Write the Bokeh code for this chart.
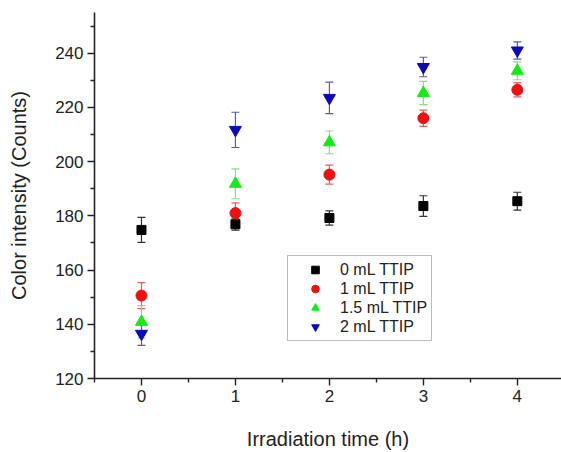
from bokeh.plotting import figure
from bokeh.models import Range1d, ColumnDataSource, Whisker, TeeHead, Legend, LegendItem, FixedTicker
from bokeh.embed import file_html
from bokeh.resources import INLINE

# Data
times = [0, 1, 2, 3, 4]
series_names = ["0 mL TTIP", "1 mL TTIP", "1.5 mL TTIP", "2 mL TTIP"]
ttip0 = [174.8, 176.9, 179.2, 183.6, 185.4]
ttip0_err = [4.6, 2.2, 2.6, 3.8, 3.3]
ttip1 = [150.6, 181.0, 195.2, 216.0, 226.5]
ttip1_err = [4.8, 3.8, 3.5, 3.0, 2.6]
ttip15 = [140.9, 191.8, 207.1, 225.3, 233.5]
ttip15_err = [6.0, 5.5, 4.2, 4.3, 3.3]
ttip2 = [136.5, 211.7, 223.5, 234.9, 241.0]
ttip2_err = [4.3, 6.5, 5.8, 3.6, 3.2]

y_ticks = [120, 140, 160, 180, 200, 220, 240]
x_ticks = [0, 1, 2, 3, 4]

FONT = "Liberation Sans"

p = figure(width=561, height=452, output_backend="svg", toolbar_location=None,
           x_range=Range1d(-0.5, 4.47), y_range=Range1d(120, 255),
           min_border_left=94, min_border_right=0, min_border_top=12, min_border_bottom=74)
p.xgrid.visible = False
p.ygrid.visible = False
p.outline_line_color = None
p.background_fill_color = "white"
p.border_fill_color = "white"

for ax in (p.xaxis[0], p.yaxis[0]):
    ax.axis_line_width = 1.6
    ax.axis_line_color = "#222222"
    ax.major_tick_line_color = "#222222"
    ax.minor_tick_line_color = "#222222"
    ax.major_tick_line_width = 1.4
    ax.minor_tick_line_width = 1.4
    ax.major_tick_out = 7
    ax.major_tick_in = 0
    ax.minor_tick_out = 4
    ax.minor_tick_in = 0
    ax.major_label_text_font = FONT
    ax.major_label_text_font_size = "17px"
    ax.major_label_text_color = "#222222"
    ax.axis_label_text_font = FONT
    ax.axis_label_text_font_size = "20px"
    ax.axis_label_text_font_style = "normal"
    ax.axis_label_text_color = "#222222"

p.xaxis.ticker = FixedTicker(ticks=x_ticks, minor_ticks=[-0.5, 0.5, 1.5, 2.5, 3.5])
p.yaxis.ticker = FixedTicker(ticks=y_ticks, minor_ticks=[130, 150, 170, 190, 210, 230, 250])
p.xaxis.axis_label = "Irradiation time (h)"
p.yaxis.axis_label = "Color intensity (Counts)"
p.xaxis.major_label_standoff = 4
p.xaxis.axis_label_standoff = 23
p.yaxis.major_label_standoff = 4
p.yaxis.axis_label_standoff = 22

specs = [
    (ttip0, ttip0_err, "square", "#000000", "#333333", 9),
    (ttip1, ttip1_err, "circle", "#ee1111", "#e06060", 11),
    (ttip15, ttip15_err, "triangle", "#11ee11", "#88dd88", 12),
    (ttip2, ttip2_err, "inverted_triangle", "#0a0ab8", "#5a5aa8", 12),
]

items = []
for (vals, errs, marker, color, ecolor, size), name in zip(specs, series_names):
    src = ColumnDataSource(dict(
        x=times, y=vals,
        lower=[v - e for v, e in zip(vals, errs)],
        upper=[v + e for v, e in zip(vals, errs)],
    ))
    w = Whisker(source=src, base="x", lower="lower", upper="upper",
                line_color=ecolor, line_width=1.2,
                upper_head=TeeHead(size=8, line_color=ecolor, line_width=1.2),
                lower_head=TeeHead(size=8, line_color=ecolor, line_width=1.2))
    p.add_layout(w)
    r = p.scatter("x", "y", source=src, marker=marker, size=size,
                  fill_color=color, line_color=color)
    items.append(LegendItem(label=name, renderers=[r]))

legend = Legend(items=items, location=(193, 37), orientation="vertical")
legend.border_line_color = "#777777"
legend.border_line_width = 1.5
legend.background_fill_alpha = 1.0
legend.label_text_font = FONT
legend.label_text_font_size = "16px"
legend.label_text_color = "#222222"
legend.label_height = 19
legend.glyph_height = 19
legend.glyph_width = 46
legend.spacing = 0
legend.padding = 4
legend.margin = 0
legend.label_standoff = 2
legend.inactive_fill_alpha = 0
p.add_layout(legend, "center")

open("out.html", "w").write(file_html(p, INLINE))
